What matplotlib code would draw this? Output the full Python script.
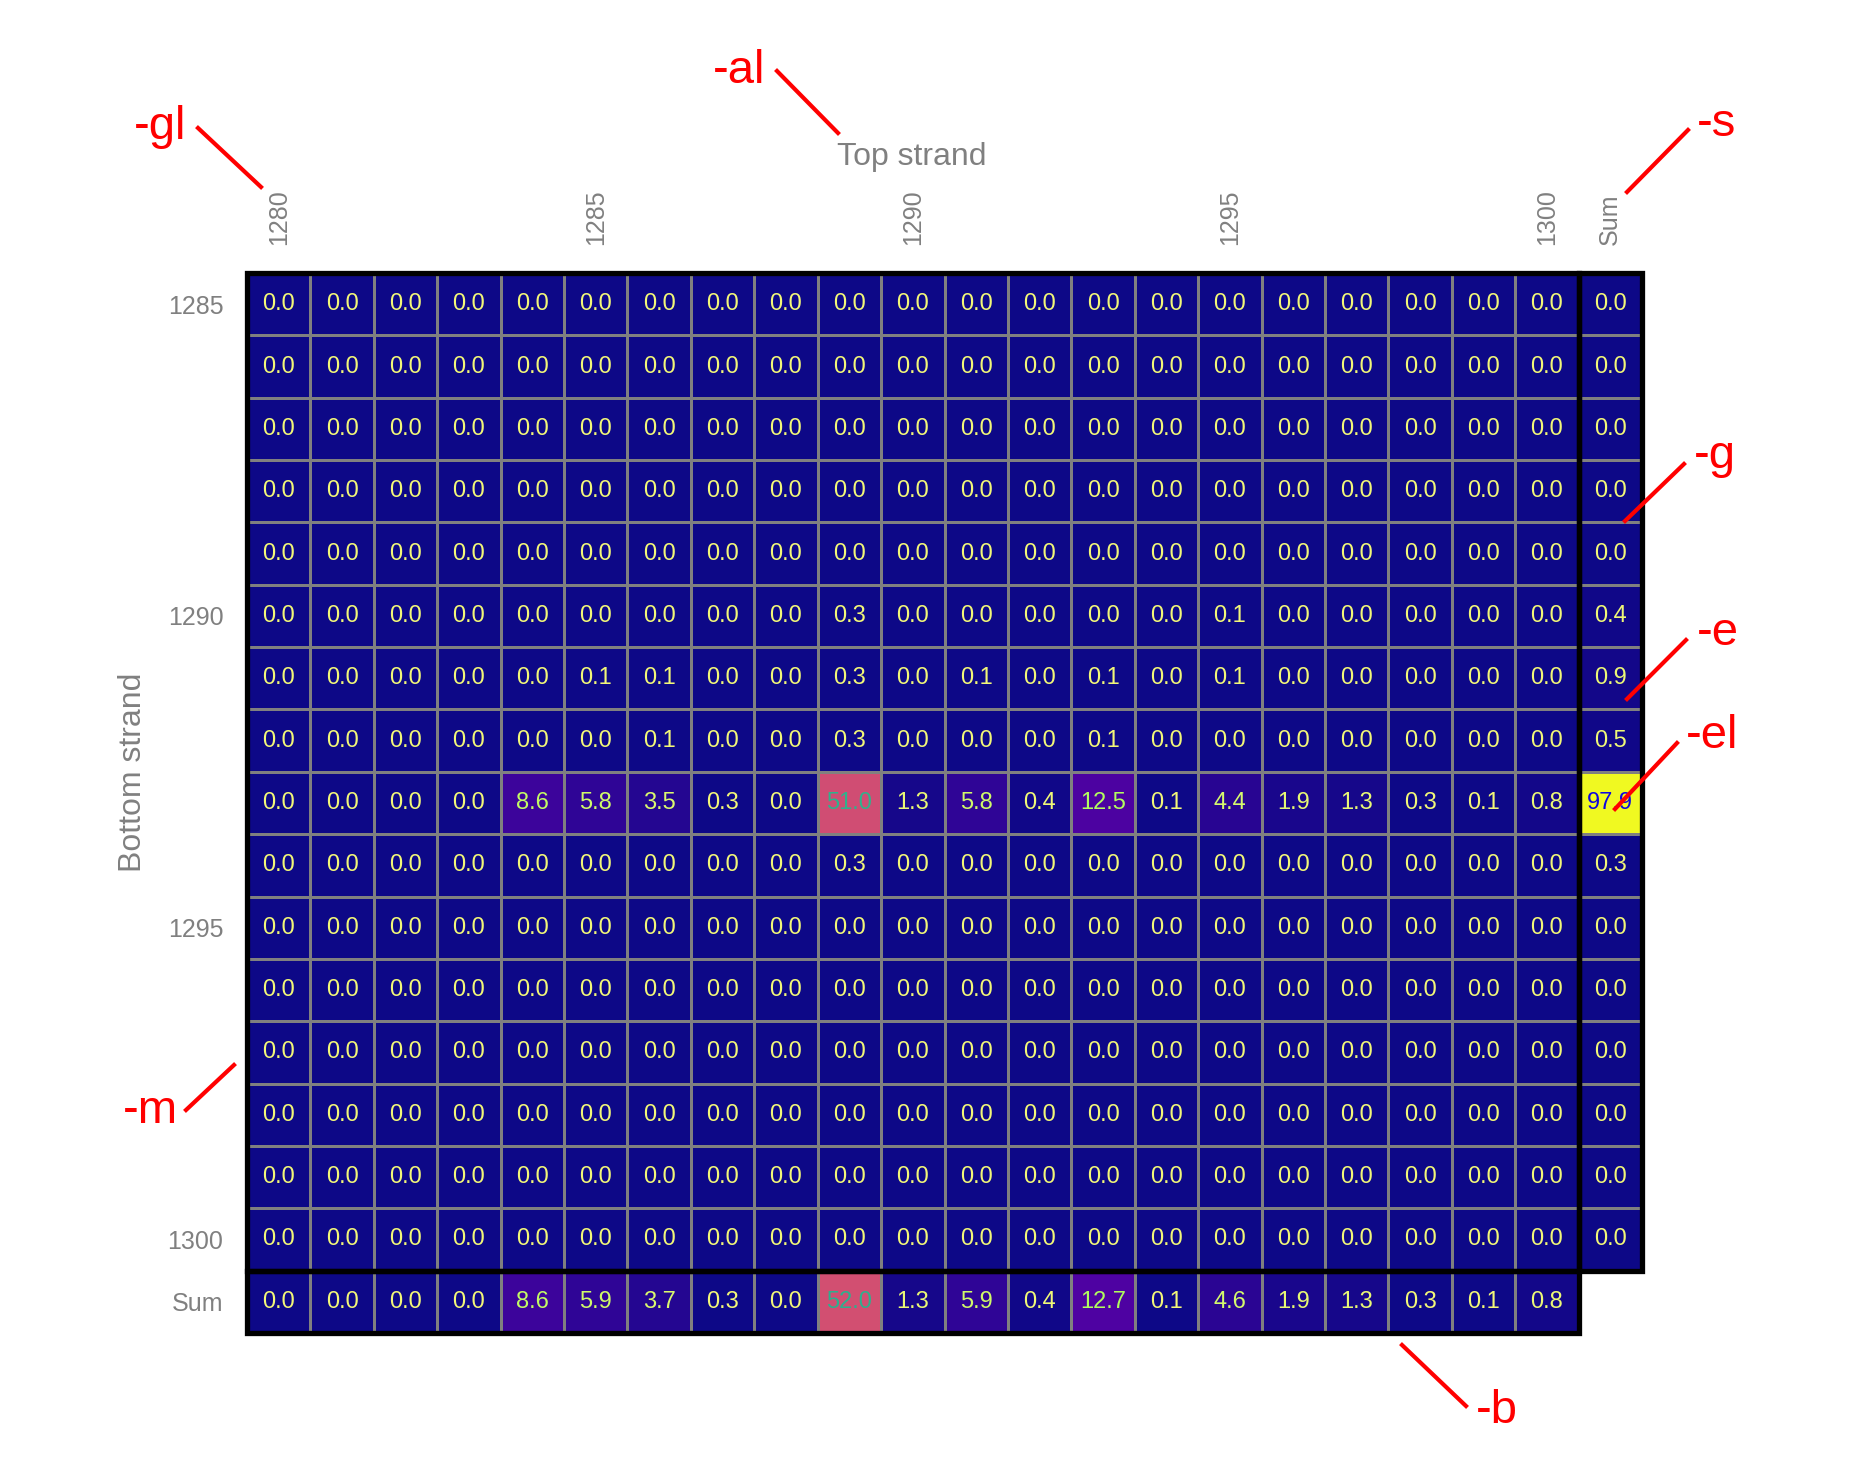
import numpy as np
import matplotlib
matplotlib.use("Agg")
import matplotlib.pyplot as plt
from matplotlib.patches import Rectangle
from matplotlib.colors import Normalize

plt.rcParams['font.family'] = ['Liberation Sans', 'DejaVu Sans']

# positions along each strand
top_pos = list(range(1280, 1301))
bottom_pos = list(range(1285, 1301))

# rows of the matrix that are not all zero (percent)
row_1290 = [0.0, 0.0, 0.0, 0.0, 0.0, 0.0, 0.0, 0.0, 0.0, 0.3, 0.0, 0.0, 0.0, 0.0, 0.0, 0.1, 0.0, 0.0, 0.0, 0.0, 0.0]
row_1291 = [0.0, 0.0, 0.0, 0.0, 0.0, 0.1, 0.1, 0.0, 0.0, 0.3, 0.0, 0.1, 0.0, 0.1, 0.0, 0.1, 0.0, 0.0, 0.0, 0.0, 0.0]
row_1292 = [0.0, 0.0, 0.0, 0.0, 0.0, 0.0, 0.1, 0.0, 0.0, 0.3, 0.0, 0.0, 0.0, 0.1, 0.0, 0.0, 0.0, 0.0, 0.0, 0.0, 0.0]
row_1293 = [0.0, 0.0, 0.0, 0.0, 8.6, 5.8, 3.5, 0.3, 0.0, 51.0, 1.3, 5.8, 0.4, 12.5, 0.1, 4.4, 1.9, 1.3, 0.3, 0.1, 0.8]
row_1294 = [0.0, 0.0, 0.0, 0.0, 0.0, 0.0, 0.0, 0.0, 0.0, 0.3, 0.0, 0.0, 0.0, 0.0, 0.0, 0.0, 0.0, 0.0, 0.0, 0.0, 0.0]

# sums as printed in the chart
row_sums = [0.0, 0.0, 0.0, 0.0, 0.0, 0.4, 0.9, 0.5, 97.9, 0.3, 0.0, 0.0, 0.0, 0.0, 0.0, 0.0]
col_sums = [0.0, 0.0, 0.0, 0.0, 8.6, 5.9, 3.7, 0.3, 0.0, 52.0, 1.3, 5.9, 0.4, 12.7, 0.1, 4.6, 1.9, 1.3, 0.3, 0.1, 0.8]

nonzero_rows = {1290: row_1290, 1291: row_1291, 1292: row_1292, 1293: row_1293, 1294: row_1294}

n_rows = len(bottom_pos)
n_cols = len(top_pos)

mat = np.zeros((n_rows + 1, n_cols + 1))
for p, r in nonzero_rows.items():
    mat[bottom_pos.index(p), :n_cols] = r
mat[:n_rows, n_cols] = row_sums
mat[n_rows, :n_cols] = col_sums
mask = np.zeros_like(mat, dtype=bool)
mask[n_rows, n_cols] = True
data = np.ma.masked_array(mat, mask)

cmap = plt.get_cmap('plasma')
norm = Normalize(0, data.max())

fig = plt.figure(figsize=(18.57, 14.61), dpi=100)
W, H = 1857.0, 1461.0
ax = fig.add_axes([247 / W, 1 - 1333 / H, (1642 - 247) / W, (1333 - 273) / H])

ax.pcolormesh(np.arange(n_cols + 2), np.arange(n_rows + 2), data, cmap=cmap, norm=norm,
              edgecolors='#808080', linewidth=1.0)
ax.set_xlim(0, n_cols + 1)
ax.set_ylim(n_rows + 1, 0)
# blank corner cell (no sum of sums)
ax.add_patch(Rectangle((n_cols, n_rows), 1.2, 1.2, facecolor='white', edgecolor='none',
                       clip_on=False, zorder=2))

for i in range(n_rows + 1):
    for j in range(n_cols + 1):
        if mask[i, j]:
            continue
        rgb = np.array(cmap(norm(mat[i, j]))[:3])
        ax.text(j + 0.5, i + 0.5, "%.1f" % mat[i, j], ha='center', va='center',
                fontsize=17, color=1 - rgb)

# thick borders: main block, sum column, sum row
for xy, w, h in [((0, 0), n_cols, n_rows), ((n_cols, 0), 1, n_rows), ((0, n_rows), n_cols, 1)]:
    ax.add_patch(Rectangle(xy, w, h, fill=False, edgecolor='black', linewidth=3.8,
                           clip_on=False, zorder=3))

xt = [top_pos.index(p) + 0.5 for p in top_pos if p % 5 == 0] + [n_cols + 0.5]
xl = [str(p) for p in top_pos if p % 5 == 0] + ['Sum']
yt = [bottom_pos.index(p) + 0.5 for p in bottom_pos if p % 5 == 0] + [n_rows + 0.5]
yl = [str(p) for p in bottom_pos if p % 5 == 0] + ['Sum']

ax.xaxis.tick_top()
ax.set_xticks(xt)
ax.set_xticklabels(xl, rotation=90, fontsize=18, color='gray')
ax.set_yticks(yt)
ax.set_yticklabels(yl, fontsize=18, color='gray')
ax.tick_params(axis='x', length=0, pad=20)
ax.tick_params(axis='y', length=0, pad=17)
for s in ax.spines.values():
    s.set_visible(False)

fig.text(912 / W, 1 - 157 / H, 'Top strand', ha='center', va='center', fontsize=23, color='gray')
fig.text(133 / W, 1 - 772 / H, 'Bottom strand', ha='center', va='center', rotation=90,
         fontsize=23, color='gray')

# red call-outs (label, text x, baseline y, line start, line end) in pixels from top-left
callouts = [
    ('-gl', 160, 139, (198, 128), (261, 187)),
    ('-al', 739, 83, (777, 71), (838, 133)),
    ('-s', 1717, 136, (1688, 130), (1627, 192)),
    ('-g', 1715, 468, (1684, 464), (1625, 521)),
    ('-e', 1718, 645, (1686, 640), (1627, 699)),
    ('-el', 1712, 748, (1677, 743), (1615, 809)),
    ('-m', 150, 1123, (186, 1110), (234, 1065)),
    ('-b', 1497, 1423, (1402, 1345), (1466, 1406)),
]
for lab, tx, ty, p0, p1 in callouts:
    fig.text(tx / W, 1 - ty / H, lab, ha='center', va='baseline', fontsize=34, color='red')
    fig.add_artist(plt.Line2D([p0[0] / W, p1[0] / W], [1 - p0[1] / H, 1 - p1[1] / H],
                              color='red', linewidth=3, transform=fig.transFigure))

fig.savefig('out.png', dpi=100)
